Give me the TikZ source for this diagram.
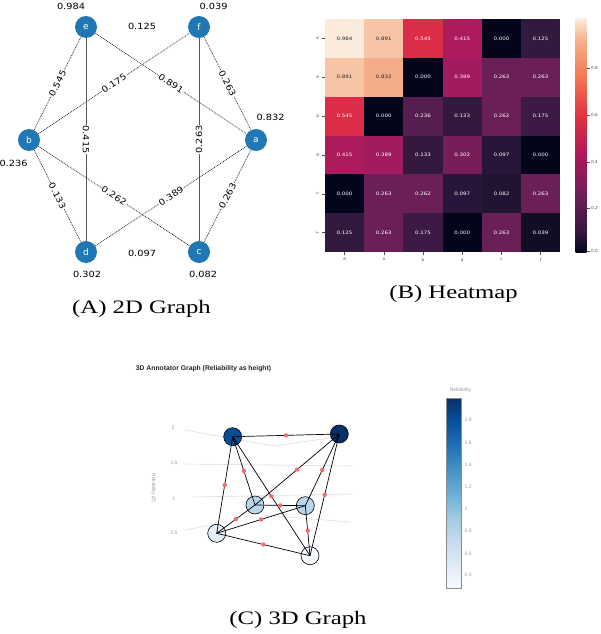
\documentclass[tikz,border=0pt]{standalone}
\usepackage{graphicx}
\usepackage{fontspec}
\setmainfont{Liberation Serif}
\newfontfamily\dvfont{DejaVu Sans}
\newfontfamily\arfont{Liberation Sans}
\newcommand\wx[2]{\scalebox{#1}[1]{#2}}
% panel A
\definecolor{nodeblue}{HTML}{1F77B4}
\definecolor{edgegray}{HTML}{555555}
% heatmap colours
\definecolor{h984}{HTML}{FAEBDD}
\definecolor{h891}{HTML}{F7C4A5}
\definecolor{h832}{HTML}{F4AD88}
\definecolor{h545}{HTML}{DC2D48}
\definecolor{h415}{HTML}{AC1C5D}
\definecolor{h389}{HTML}{A21B5E}
\definecolor{h302}{HTML}{771E58}
\definecolor{h263}{HTML}{6A1F56}
\definecolor{h262}{HTML}{6A1F56}
\definecolor{h236}{HTML}{561E4F}
\definecolor{h175}{HTML}{3D1A45}
\definecolor{h133}{HTML}{33193E}
\definecolor{h125}{HTML}{311A3D}
\definecolor{h097}{HTML}{27163A}
\definecolor{h082}{HTML}{211433}
\definecolor{h039}{HTML}{120D24}
\definecolor{h000}{HTML}{03051A}
\definecolor{r0}{HTML}{03051A}
\definecolor{r1}{HTML}{35193E}
\definecolor{r2}{HTML}{701F57}
\definecolor{r3}{HTML}{AD1759}
\definecolor{r4}{HTML}{E13342}
\definecolor{r5}{HTML}{F37651}
\definecolor{r6}{HTML}{F6B48F}
\definecolor{r7}{HTML}{FAEBDD}
\pgfdeclareverticalshading{rocketbar}{100bp}{color(0bp)=(r0); color(25bp)=(r0); color(29.2bp)=(r1); color(37.5bp)=(r2); color(45.8bp)=(r3); color(54.2bp)=(r4); color(62.5bp)=(r5); color(70.8bp)=(r6); color(75bp)=(r7); color(100bp)=(r7)}
% blues
\definecolor{b0}{HTML}{F7FBFF}
\definecolor{b1}{HTML}{DEEBF7}
\definecolor{b2}{HTML}{C6DBEF}
\definecolor{b3}{HTML}{9ECAE1}
\definecolor{b4}{HTML}{6BAED6}
\definecolor{b5}{HTML}{4292C6}
\definecolor{b6}{HTML}{2171B5}
\definecolor{b7}{HTML}{08519C}
\definecolor{b8}{HTML}{08306B}
\pgfdeclareverticalshading{bluesbar}{100bp}{color(0bp)=(b0); color(25bp)=(b0); color(31.25bp)=(b1); color(37.5bp)=(b2); color(43.75bp)=(b3); color(50bp)=(b4); color(56.25bp)=(b5); color(62.5bp)=(b6); color(68.75bp)=(b7); color(75bp)=(b8); color(100bp)=(b8)}
\definecolor{cn1}{HTML}{0B4D94}
\definecolor{cn2}{HTML}{08306B}
\definecolor{cn3}{HTML}{BAD6EB}
\definecolor{cn5}{HTML}{E2EDF8}
\definecolor{cn6}{HTML}{F7FBFF}
\definecolor{reddot}{HTML}{F26D6D}
\definecolor{gridgray}{HTML}{DDDDDD}
\definecolor{labgray}{HTML}{999999}

\begin{document}
\begin{tikzpicture}[x=1pt,y=-1pt,
  gnode/.style={circle,fill=nodeblue,minimum size=22pt,inner sep=0pt,text=white,font=\dvfont\fontsize{9}{9}\selectfont},
  vlab/.style={inner sep=0pt,font=\dvfont\fontsize{8.5}{8.5}\selectfont},
  elab/.style={fill=white,inner sep=0.6pt,font=\dvfont\fontsize{8.5}{8.5}\selectfont},
  edot/.style={draw=black!85,dash pattern=on 0.9pt off 0.9pt,line width=0.7pt},
  esol/.style={draw=edgegray,line width=0.8pt},
  captxt/.style={inner sep=0pt,font=\fontsize{19}{19}\selectfont},
  hlab/.style={inner sep=0pt,font=\dvfont\fontsize{4.6}{4.6}\selectfont},
  axlab/.style={inner sep=0pt,font=\dvfont\fontsize{4.2}{4.2}\selectfont,text=black!70},
  cnode/.style={circle,draw=black,line width=0.6pt,minimum size=18pt,inner sep=0pt},
  cedge/.style={draw=black,line width=0.7pt},
  rdot/.style={circle,fill=reddot,minimum size=4.4pt,inner sep=0pt},
  gridl/.style={draw=gridgray,line width=0.6pt},
  glab/.style={inner sep=0pt,text=labgray,font=\arfont\fontsize{5}{5}\selectfont}]
\useasboundingbox (0,0) rectangle (600,634);

% ---------------- Panel A ----------------
\node[gnode] (e) at (86,27) {e};
\node[gnode] (f) at (199,27) {f};
\node[gnode] (b) at (29,140) {b};
\node[gnode] (a) at (256,140) {a};
\node[gnode] (d) at (86,252) {d};
\node[gnode] (c) at (199,252) {c};
\draw[edot] (b) -- node[elab,rotate=63.2]{\wx{1.15}{0.545}} (e);
\draw[edot] (b) -- node[elab,rotate=33.6]{\wx{1.15}{0.175}} (f);
\draw[edot] (e) -- node[elab,rotate=-33.6]{\wx{1.15}{0.891}} (a);
\draw[edot] (f) -- node[elab,rotate=-63.2]{\wx{1.15}{0.263}} (a);
\draw[esol] (e) -- node[elab,rotate=-90]{\wx{1.15}{0.415}} (d);
\draw[esol] (f) -- node[elab,rotate=90]{\wx{1.15}{0.263}} (c);
\draw[edot] (b) -- node[elab,rotate=-63.2]{\wx{1.15}{0.133}} (d);
\draw[edot] (b) -- node[elab,rotate=-33.6]{\wx{1.15}{0.262}} (c);
\draw[edot] (d) -- node[elab,rotate=33.6]{\wx{1.15}{0.389}} (a);
\draw[edot] (c) -- node[elab,rotate=63.2]{\wx{1.15}{0.263}} (a);
\node[vlab] (le) at (71,6) {\wx{1.15}{0.984}};
\node[vlab] (lf) at (213.5,6) {\wx{1.15}{0.039}};
\node[vlab] (lfe) at (142,26.5) {\wx{1.15}{0.125}};
\node[vlab] (la) at (270.5,117.5) {\wx{1.15}{0.832}};
\node[vlab] (lb) at (13.5,163) {\wx{1.15}{0.236}};
\node[vlab] (ld) at (87,274) {\wx{1.15}{0.302}};
\node[vlab] (ldc) at (142,253) {\wx{1.15}{0.097}};
\node[vlab] (lc) at (203,274) {\wx{1.15}{0.082}};
\node[captxt] (capA) at (141.5,309) {\wx{1.3}{(A) 2D Graph}};

% ---------------- Panel B ----------------
\foreach \r/\c/\v in {0/0/984,0/1/891,0/2/545,0/3/415,0/4/000,0/5/125,
  1/0/891,1/1/832,1/2/000,1/3/389,1/4/263,1/5/263,
  2/0/545,2/1/000,2/2/236,2/3/133,2/4/262,2/5/175,
  3/0/415,3/1/389,3/2/133,3/3/302,3/4/097,3/5/000,
  4/0/000,4/1/263,4/2/262,4/3/097,4/4/082,4/5/263,
  5/0/125,5/1/263,5/2/175,5/3/000,5/4/263,5/5/039}{
  \fill[h\v] ({325+39.2*\c},{19+38.85*\r}) rectangle +(39.3,38.95);
  \ifnum\v>800 \def\tcol{black!85}\else\def\tcol{white}\fi
  \node[hlab,text=\tcol] (cell\r\c) at ({325+39.2*(\c+0.5)},{19+38.85*(\r+0.5)}) {\wx{1.2}{0.\v}};
}
\foreach \i/\l in {0/e,1/a,2/b,3/d,4/c,5/f}{
  \draw[black!70,line width=0.4pt] (322,{19+38.85*(\i+0.5)}) -- (325,{19+38.85*(\i+0.5)});
  \node[axlab,rotate=90] (rl\i) at (317.5,{19+38.85*(\i+0.5)}) {\l};
  \draw[black!70,line width=0.4pt] ({325+39.2*(\i+0.5)},252) -- ({325+39.2*(\i+0.5)},255);
  \node[axlab] (cl\i) at ({325+39.2*(\i+0.5)},259.5) {\l};
}
\shade[shading=rocketbar] (575.5,19) rectangle (586.5,252);
\foreach \y/\t in {68/0.8,115/0.6,162/0.4,208/0.2,251/0.0}{
  \draw[black!70,line width=0.4pt] (586.5,\y) -- (589.5,\y);
  \node[axlab,anchor=west] (cb\t) at (591,\y) {\t};
}
\node[captxt] (capB) at (453.5,294) {\wx{1.3}{(B) Heatmap}};

% ---------------- Panel C ----------------
\node[inner sep=0pt,font=\arfont\bfseries\fontsize{6.8}{6.8}\selectfont,text=black!85] (title) at (203.5,369) {3D Annotator Graph (Reliability as height)};
% grid lines
\draw[gridl] (185,430) -- (273,446) -- (330,438);
\draw[gridl] (184,464) -- (353,466);
\draw[gridl] (193,497) -- (352,494);
\draw[gridl] (185,530) -- (216,524);
\draw[gridl] (262,515) -- (350,522);
\node[glab] (z2) at (173,428) {2};
\node[glab] (z15) at (174,463) {1.5};
\node[glab] (z1) at (173.5,498.5) {1};
\node[glab] (z05) at (174,533) {0.5};
\node[glab,rotate=-90] (zt) at (153.5,488) {Reliability (Z)};
% nodes
\node[cnode,fill=cn1] (n1) at (232.7,436.7) {};
\node[cnode,fill=cn2] (n2) at (339.3,434) {};
\node[cnode,fill=cn3] (n3) at (255,505) {};
\node[cnode,fill=cn3] (n4) at (305.3,505.7) {};
\node[cnode,fill=cn5] (n5) at (216.7,533.3) {};
\node[cnode,fill=cn6] (n6) at (310,555.7) {};
% edges
\draw[cedge] (n1.center) -- node[rdot]{} (n2.center);
\draw[cedge] (n1.center) -- node[rdot]{} (n5.center);
\draw[cedge] (n1.center) -- node[rdot]{} (n3.center);
\draw[cedge] (n1.center) -- node[rdot]{} (n6.center);
\draw[cedge] (n2.center) -- node[rdot]{} (n3.center);
\draw[cedge] (n2.center) -- node[rdot]{} (n4.center);
\draw[cedge] (n2.center) -- node[rdot]{} (n6.center);
\draw[cedge] (n3.center) -- node[rdot]{} (n4.center);
\draw[cedge] (n5.center) -- node[rdot]{} (n3.center);
\draw[cedge] (n5.center) -- node[rdot]{} (n4.center);
\draw[cedge] (n5.center) -- node[rdot]{} (n6.center);
\draw[cedge] (n4.center) -- node[rdot]{} (n6.center);
% colorbar
\node[glab] (cbt) at (460.5,390.5) {Reliability};
\shade[shading=bluesbar,draw=black!45,line width=0.5pt] (446.7,398.3) rectangle (461.7,588.3);
\foreach \y/\t in {420/1.8,442.3/1.6,464.3/1.4,486.7/1.2,509/1,531/0.8,553.3/0.6,575/0.4}{
  \node[glab,anchor=west] (ct\t) at (464.5,\y) {\t};
}
\node[captxt] (capC) at (298,619.5) {\wx{1.3}{(C) 3D Graph}};
\end{tikzpicture}
\end{document}
